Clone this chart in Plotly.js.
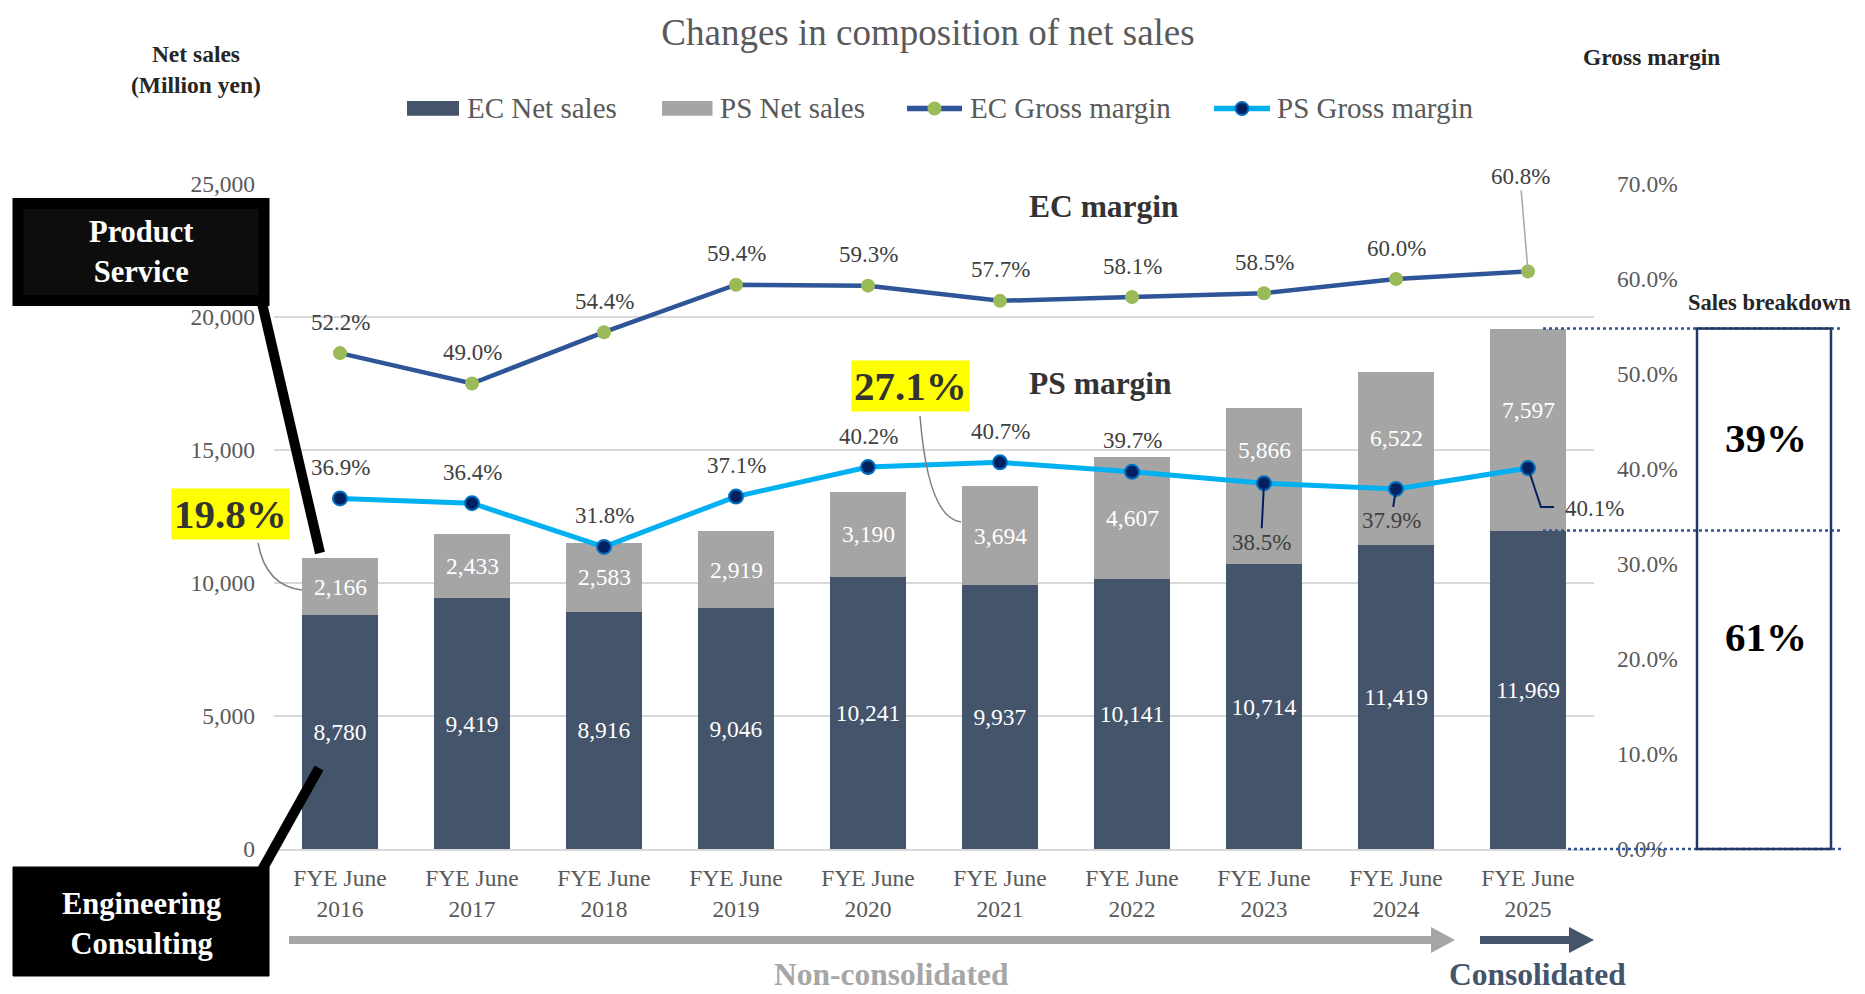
<!DOCTYPE html>
<html>
<head>
<meta charset="utf-8">
<script src="https://cdn.plot.ly/plotly-3.0.1.min.js"></script>
<style>html,body{margin:0;padding:0;background:#fff;}#chart{width:1865px;height:994px;}</style>
</head>
<body>
<div id="chart"></div>
<script>
// ---------------- data ----------------
const years = ['2016', '2017', '2018', '2019', '2020', '2021', '2022', '2023', '2024', '2025'];
const categories = years.map(y => 'FYE June<br>' + y);
const ecSales = [8780, 9419, 8916, 9046, 10241, 9937, 10141, 10714, 11419, 11969];
const psSales = [2166, 2433, 2583, 2919, 3190, 3694, 4607, 5866, 6522, 7597];
const ecMargin = [52.2, 49.0, 54.4, 59.4, 59.3, 57.7, 58.1, 58.5, 60.0, 60.8];
const psMargin = [36.9, 36.4, 31.8, 37.1, 40.2, 40.7, 39.7, 38.5, 37.9, 40.1];
const salesTicks = [0, 5000, 10000, 15000, 20000, 25000];
const marginTicks = [0, 10, 20, 30, 40, 50, 60, 70];
const seriesNames = ['EC Net sales', 'PS Net sales', 'EC Gross margin', 'PS Gross margin'];
const highlightIdx = [0, 5];   // years whose PS share is called out

// ---------------- layout helpers ----------------
const W = 1865, H = 994, L = 274, R = 1594, T = 184, B = 849;
const px = x => (x - L) / (R - L);
const py = y => (B - y) / (B - T);
const salesMax = salesTicks[salesTicks.length - 1];
const marginMax = marginTicks[marginTicks.length - 1];
const vy = v => v / salesMax;
const FONT = 'Liberation Serif, Times New Roman, serif';
const fmt = v => v.toLocaleString('en-US');
const share = i => psSales[i] / (ecSales[i] + psSales[i]) * 100;
const last = years.length - 1;
const lastTotal = ecSales[last] + psSales[last];

const C = {ec: '#44546A', ps: '#A5A5A5', ecLine: '#2E5597', ecMk: '#9BBB59', psLine: '#00B0F0', psMk: '#002060', psMkLine: '#0070C0'};

// label placement (pixel offsets), not data
const ecLeader = {9: {ax: -8, ay: -95, color: '#A6A6A6', w: 1.5}};
const psLeader = {7: {ax: -3, ay: 59, color: '#002060', w: 2}, 8: {ax: -5, ay: 32, color: '#002060', w: 2}};
const psTextShift = [0, 0, 0, 0, 0, 0, 0, 36, 21, 20];

// ---------------- traces ----------------
const traces = [
  {
    type: 'bar', name: seriesNames[0], x: categories, y: ecSales,
    marker: {color: C.ec},
    text: ecSales.map(fmt), textposition: 'inside', insidetextanchor: 'middle',
    textfont: {family: FONT, size: 23.5, color: '#FFFFFF'}, textangle: 0,
    hoverinfo: 'y'
  },
  {
    type: 'bar', name: seriesNames[1], x: categories, y: psSales,
    marker: {color: C.ps}, hoverinfo: 'y'
  },
  {
    type: 'scatter', mode: 'lines+markers', name: seriesNames[2], x: categories, y: ecMargin, yaxis: 'y2',
    line: {color: C.ecLine, width: 4.5},
    marker: {color: C.ecMk, size: 14}
  },
  {
    type: 'scatter', mode: 'lines+markers', name: seriesNames[3], x: categories, y: psMargin, yaxis: 'y2',
    line: {color: C.psLine, width: 5},
    marker: {color: C.psMk, size: 14, line: {color: C.psMkLine, width: 2}}
  }
];

// ---------------- annotations ----------------
const annotations = [];
function txt(x, y, text, size, color, extra) {
  annotations.push(Object.assign({
    xref: 'paper', yref: 'paper', x: x, y: y, text: text, showarrow: false,
    xanchor: 'center', yanchor: 'middle',
    font: {family: FONT, size: size, color: color}
  }, extra || {}));
}

// line labels
ecMargin.forEach((v, i) => {
  const a = {xref: 'x', yref: 'y2', x: categories[i], y: v, text: v.toFixed(1) + '%',
    font: {family: FONT, size: 23, color: '#404040'}};
  if (ecLeader[i]) Object.assign(a, {showarrow: true, arrowhead: 0, arrowwidth: ecLeader[i].w, arrowcolor: ecLeader[i].color, ax: ecLeader[i].ax, ay: ecLeader[i].ay, standoff: 0});
  else Object.assign(a, {showarrow: false, yshift: 31});
  annotations.push(a);
});
psMargin.forEach((v, i) => {
  const a = {xref: 'x', yref: 'y2', x: categories[i], y: v, text: v.toFixed(1) + '%',
    font: {family: FONT, size: 23, color: '#404040'}};
  if (psLeader[i]) Object.assign(a, {showarrow: true, arrowhead: 0, arrowwidth: psLeader[i].w, arrowcolor: psLeader[i].color, ax: psLeader[i].ax, ay: psLeader[i].ay, standoff: 0});
  else if (i === last) Object.assign(a, {showarrow: false, xshift: 66, yshift: -40});
  else Object.assign(a, {showarrow: false, yshift: 31});
  annotations.push(a);
});
// PS bar labels
psSales.forEach((v, i) => {
  annotations.push({xref: 'x', yref: 'y', x: categories[i], y: ecSales[i] + v / 2, text: fmt(v),
    showarrow: false, yshift: psTextShift[i], font: {family: FONT, size: 23.5, color: '#FFFFFF'}});
});

// custom legend texts
const legendTextX = [465, 718, 968, 1275];
seriesNames.forEach((n, k) => txt(px(legendTextX[k]), py(108), n, 29, '#595959', {xanchor: 'left'}));

// titles / captions
txt(px(196), py(69), '<b>Net sales<br>(Million yen)</b>', 23.5, '#262626');
txt(px(1651), py(57), '<b>Gross margin</b>', 23.5, '#262626');
txt(px(1104), py(207), '<b>EC margin</b>', 31.5, '#333333');
txt(px(1100), py(383), '<b>PS margin</b>', 31.5, '#333333');
// highlighted PS shares
const hlPos = [[230, 514], [910, 385.5]];
highlightIdx.forEach((idx, k) => {
  txt(px(hlPos[k][0]), py(hlPos[k][1]), '<b>' + share(idx).toFixed(1) + '%</b>', 41, '#333333',
    {bgcolor: '#FFFF00', borderpad: 2});
});
// segment boxes
txt(px(141), py(252), '<b>Product<br>Service</b>', 30.5, '#FFFFFF');
txt(px(141), py(924), '<b>Engineering<br>Consulting</b>', 30.5, '#FFFFFF');
// sales breakdown
txt(px(1769), py(302), '<b>Sales breakdown</b>', 22.5, '#262626');
txt(px(1766), py(438), '<b>' + Math.round(psSales[last] / lastTotal * 100) + '%</b>', 41, '#000000');
txt(px(1766), py(637), '<b>' + Math.round(ecSales[last] / lastTotal * 100) + '%</b>', 41, '#000000');
// consolidation labels
txt(px(891), py(974), '<b>Non-consolidated</b>', 31.5, '#A6A6A6');
txt(px(1537), py(974), '<b>Consolidated</b>', 31.5, '#44546A');

// ---------------- shapes ----------------
const P = (x, y) => px(x) + ',' + py(y);
const rectPx = (x0, y0, x1, y1, fill, line) => ({type: 'rect', xref: 'paper', yref: 'paper',
  x0: px(x0), x1: px(x1), y0: py(y1), y1: py(y0), fillcolor: fill, line: line || {width: 0}});
const linePx = (x0, y0, x1, y1, color, width, dash) => ({type: 'line', xref: 'paper', yref: 'paper',
  x0: px(x0), y0: py(y0), x1: px(x1), y1: py(y1), line: {color: color, width: width, dash: dash || 'solid'}});
const circlePx = (cx, cy, r, fill, line) => ({type: 'circle', xref: 'paper', yref: 'paper',
  x0: px(cx - r), x1: px(cx + r), y0: py(cy + r), y1: py(cy - r), fillcolor: fill, line: line || {width: 0}});

const shapes = [
  // custom legend symbols
  rectPx(407, 101, 459, 115.7, C.ec),
  rectPx(662, 101, 712.5, 115.7, C.ps),
  linePx(907, 108.5, 962, 108.5, C.ecLine, 5.5),
  circlePx(934.5, 108.5, 7, C.ecMk),
  linePx(1214, 108.5, 1270, 108.5, C.psLine, 5.5),
  circlePx(1242, 108.5, 6.5, C.psMk, {color: C.psMkLine, width: 2}),
  // Product Service box + leader
  rectPx(18, 203.5, 264, 300.5, '#0D0D0D', {color: '#000000', width: 11}),
  linePx(262, 303, 320, 553, '#000000', 10),
  // Engineering Consulting box + leader
  rectPx(13, 867, 269, 976, '#000000', {color: '#000000', width: 1}),
  linePx(262, 870, 319, 768, '#000000', 10),
  // callout leaders
  {type: 'path', xref: 'paper', yref: 'paper', path: 'M' + P(258, 543) + ' Q' + P(266, 586) + ' ' + P(302, 590),
    line: {color: '#7F7F7F', width: 1.5}},
  {type: 'path', xref: 'paper', yref: 'paper', path: 'M' + P(920, 416) + ' Q' + P(928, 518) + ' ' + P(961, 522),
    line: {color: '#7F7F7F', width: 1.5}},
  // elbow leader of the last PS margin label (anchored on the data point)
  {type: 'path', xref: 'x', yref: 'y2', xsizemode: 'pixel', ysizemode: 'pixel',
    xanchor: categories[last], yanchor: psMargin[last], path: 'M0,0 L13,-39 L26,-39',
    line: {color: '#002060', width: 2}},
  // sales breakdown guides
  {type: 'line', xref: 'paper', yref: 'paper', x0: px(1543), x1: px(1841), y0: vy(lastTotal), y1: vy(lastTotal),
    line: {color: '#2F5597', width: 2.5, dash: 'dot'}},
  {type: 'line', xref: 'paper', yref: 'paper', x0: px(1543), x1: px(1841), y0: vy(ecSales[last]), y1: vy(ecSales[last]),
    line: {color: '#2F5597', width: 2.5, dash: 'dot'}},
  {type: 'line', xref: 'paper', yref: 'paper', x0: px(1568), x1: px(1841), y0: 0, y1: 0,
    line: {color: '#2F5597', width: 2.5, dash: 'dot'}},
  {type: 'rect', xref: 'paper', yref: 'paper', x0: px(1697), x1: px(1831), y0: 0, y1: vy(lastTotal),
    line: {color: '#1F3864', width: 2.5}, fillcolor: 'rgba(0,0,0,0)'},
  // bottom arrows
  linePx(289, 940, 1433, 940, '#A6A6A6', 8),
  {type: 'path', xref: 'paper', yref: 'paper', path: 'M' + P(1431, 927) + ' L' + P(1455, 940) + ' L' + P(1431, 953) + ' Z',
    fillcolor: '#A6A6A6', line: {color: '#A6A6A6', width: 0}},
  linePx(1480, 940, 1571, 940, '#44546A', 8),
  {type: 'path', xref: 'paper', yref: 'paper', path: 'M' + P(1569, 927) + ' L' + P(1594, 940) + ' L' + P(1569, 953) + ' Z',
    fillcolor: '#44546A', line: {color: '#44546A', width: 0}}
];

const layout = {
  width: W, height: H,
  margin: {l: L, r: W - R, t: T, b: H - B, autoexpand: false},
  paper_bgcolor: '#FFFFFF', plot_bgcolor: '#FFFFFF',
  font: {family: FONT, color: '#595959'},
  title: {text: 'Changes in composition of net sales', x: 928 / W, xref: 'container', xanchor: 'center',
    y: 1 - 32 / H, yref: 'container', yanchor: 'middle', font: {family: FONT, size: 37, color: '#595959'}},
  barmode: 'stack', bargap: 0.43,
  showlegend: false,
  xaxis: {type: 'category', range: [-0.5, categories.length - 0.5], showgrid: false, showline: true, linecolor: '#D9D9D9', linewidth: 2,
    tickfont: {family: FONT, size: 23.5, color: '#595959'}, ticks: '', ticklabelstandoff: 7, fixedrange: true},
  yaxis: {range: [0, salesMax], tickvals: salesTicks, tickformat: ',d', showgrid: true, gridcolor: '#D9D9D9', gridwidth: 2,
    zeroline: false, showline: false, ticks: '', ticklabelstandoff: 18,
    tickfont: {family: FONT, size: 23.5, color: '#595959'}, fixedrange: true},
  yaxis2: {overlaying: 'y', side: 'right', range: [0, marginMax], tickvals: marginTicks,
    ticktext: marginTicks.map(v => v.toFixed(1) + '%'),
    showgrid: false, zeroline: false, showline: false, ticks: '', ticklabelstandoff: 22,
    tickfont: {family: FONT, size: 23.5, color: '#595959'}, fixedrange: true},
  annotations: annotations,
  shapes: shapes
};

Plotly.newPlot('chart', traces, layout, {displayModeBar: false, staticPlot: true});
</script>
</body>
</html>
